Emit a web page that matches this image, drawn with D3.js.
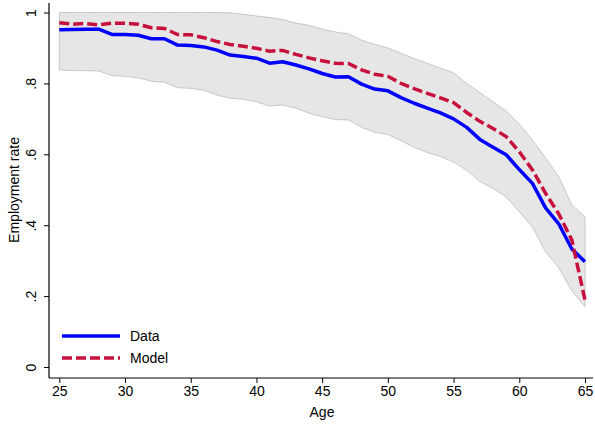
<!DOCTYPE html>
<html>
<head>
<meta charset="utf-8">
<script src="https://cdn.jsdelivr.net/npm/d3@7"></script>
<style>
  html, body { margin: 0; padding: 0; background: #fff; }
  svg { display: block; font-family: "Liberation Sans", Arial, sans-serif; }
</style>
</head>
<body>
<svg id="chart" width="595" height="425"></svg>
<script>
const ages = d3.range(25, 66);
const dataRate = [0.951,0.952,0.953,0.953,0.938,0.938,0.936,0.926,0.926,0.908,
  0.907,0.903,0.894,0.880,0.876,0.871,0.857,0.861,0.852,0.841,
  0.828,0.818,0.819,0.798,0.784,0.779,0.760,0.744,0.730,0.717,
  0.700,0.676,0.642,0.620,0.599,0.557,0.518,0.449,0.404,0.333,0.297];
const modelRate = [0.971,0.967,0.969,0.965,0.970,0.970,0.967,0.957,0.955,0.938,
  0.937,0.929,0.918,0.910,0.905,0.899,0.891,0.893,0.882,0.872,
  0.864,0.857,0.856,0.838,0.826,0.820,0.800,0.785,0.772,0.759,
  0.746,0.718,0.693,0.673,0.650,0.607,0.556,0.490,0.432,0.358,0.189];
const upperBand = [1,1,1,1,1,1,1,1,1,1,
  1,1,1,0.999,0.995,0.990,0.986,0.980,0.970,0.964,
  0.953,0.945,0.940,0.922,0.910,0.900,0.885,0.870,0.857,0.843,
  0.830,0.800,0.774,0.748,0.722,0.685,0.640,0.590,0.537,0.457,0.424];
const lowerBand = [0.838,0.836,0.836,0.835,0.822,0.820,0.816,0.806,0.803,0.788,
  0.786,0.781,0.767,0.758,0.755,0.748,0.736,0.739,0.730,0.716,
  0.706,0.698,0.697,0.676,0.662,0.656,0.638,0.620,0.605,0.594,
  0.578,0.555,0.523,0.504,0.480,0.438,0.395,0.325,0.280,0.215,0.170];
const xTicks = [25,30,35,40,45,50,55,60,65];
const yTicks = [0,0.2,0.4,0.6,0.8,1];
const yTickLabels = ["0",".2",".4",".6",".8","1"];
const seriesNames = ["Data","Model"];

const svg = d3.select("#chart");
const x = d3.scaleLinear().domain([25,65]).range([59.3,585]);
const y = d3.scaleLinear().domain([0,1]).range([367,12.5]);

const rows = ages.map((a,i)=>({age:a, d:dataRate[i], m:modelRate[i], lo:lowerBand[i], hi:upperBand[i]}));

// band
svg.append("path").datum(rows)
  .attr("d", d3.area().x(r=>x(r.age)).y0(r=>y(r.lo)).y1(r=>y(r.hi)))
  .attr("fill","#e6e6e6").attr("stroke","#bdbdbd").attr("stroke-width",0.8);

// data line
svg.append("path").datum(rows)
  .attr("d", d3.line().x(r=>x(r.age)).y(r=>y(r.d)))
  .attr("fill","none").attr("stroke","#0000ff").attr("stroke-width",3.5)
  .attr("stroke-linejoin","round");

// model line
svg.append("path").datum(rows)
  .attr("d", d3.line().x(r=>x(r.age)).y(r=>y(r.m)))
  .attr("fill","none").attr("stroke","#c8103c").attr("stroke-width",3.5)
  .attr("stroke-dasharray","10,4");

// axes
const xAxis = d3.axisBottom(x).tickValues(xTicks).tickSize(5).tickPadding(3).tickFormat(d3.format("d"));
const gx = svg.append("g").attr("transform","translate(0,378)").call(xAxis);
gx.select(".domain").remove();
gx.append("line").attr("x1",49).attr("x2",593).attr("y1",0).attr("y2",0).attr("stroke","#000").attr("stroke-width",1.2);
gx.selectAll("text").attr("font-size",14).attr("fill","#000").attr("font-family","Liberation Sans, Arial, sans-serif");

const yAxis = d3.axisLeft(y).tickValues(yTicks).tickSize(5).tickFormat((d,i)=>yTickLabels[i]);
const gy = svg.append("g").attr("transform","translate(49,0)").call(yAxis);
gy.select(".domain").remove();
gy.append("line").attr("x1",0).attr("x2",0).attr("y1",3).attr("y2",378).attr("stroke","#000").attr("stroke-width",1.2);
gy.selectAll(".tick text")
  .attr("font-size",14).attr("fill","#000").attr("font-family","Liberation Sans, Arial, sans-serif")
  .attr("x",null).attr("dy",null)
  .attr("text-anchor","middle")
  .attr("transform","translate(-18,0) rotate(-90)")
  .attr("dy","0.35em");

// axis titles
svg.append("text").attr("x",322).attr("y",417).attr("text-anchor","middle")
  .attr("font-size",14).text("Age");
svg.append("text").attr("transform","translate(19,190) rotate(-90)").attr("text-anchor","middle")
  .attr("font-size",14).text("Employment rate");

// legend
const legend = svg.append("g");
const legendY = [336, 358];
const legendStyles = [{c:"#0000ff",dash:null},{c:"#c8103c",dash:"10,4"}];
seriesNames.forEach((n,i)=>{
  legend.append("line").attr("x1",62).attr("x2",120).attr("y1",legendY[i]).attr("y2",legendY[i])
    .attr("stroke",legendStyles[i].c).attr("stroke-width",3.5)
    .attr("stroke-dasharray",legendStyles[i].dash);
  legend.append("text").attr("x",130).attr("y",legendY[i]+5).attr("font-size",14).text(n);
});
</script>
</body>
</html>
